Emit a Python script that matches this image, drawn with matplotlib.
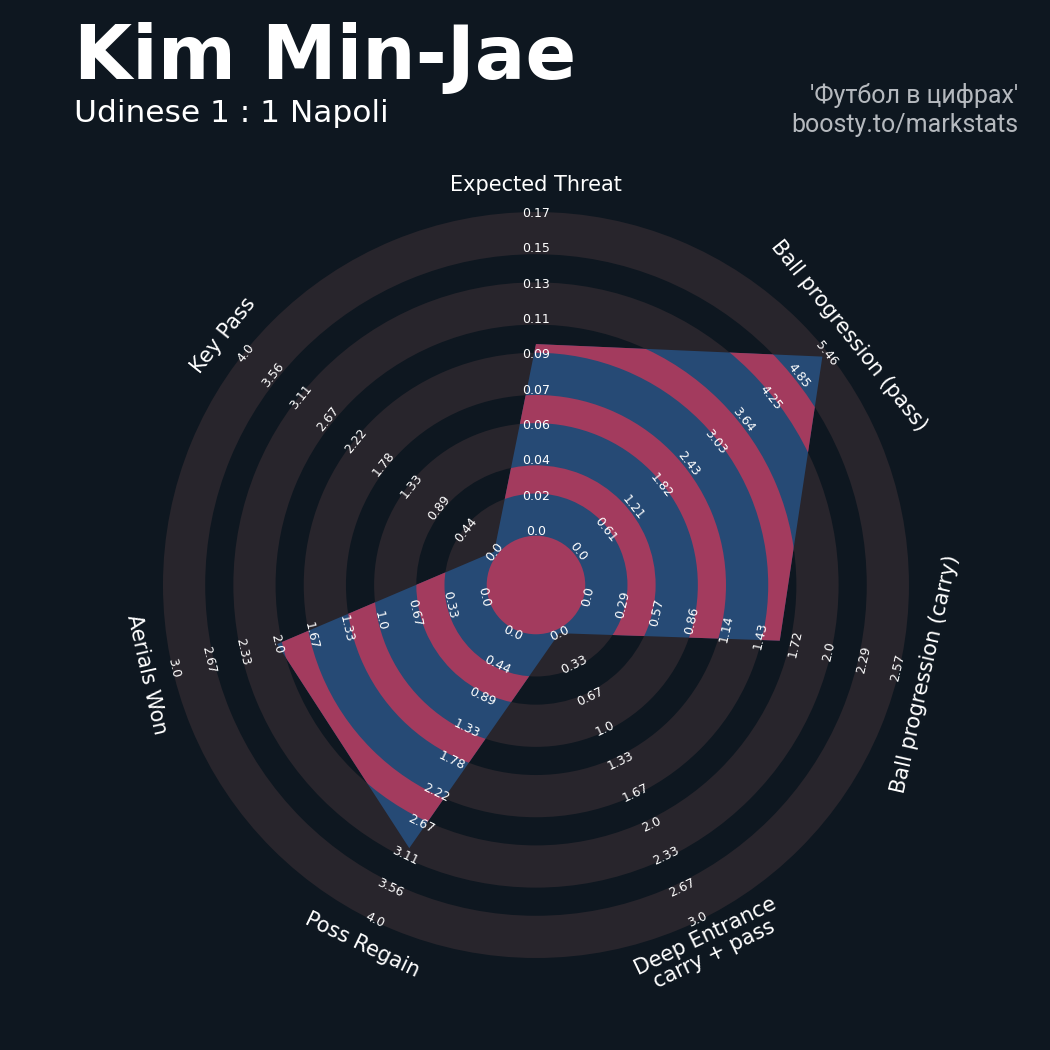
import numpy as np
import matplotlib.pyplot as plt
from matplotlib.patches import Wedge, Polygon, Circle

# данные радара
player = "Kim Min-Jae"
match = "Udinese 1 : 1 Napoli"
credit = "'Футбол в цифрах'\nboosty.to/markstats"
params = ["Expected Threat", "Ball progression (pass)", "Ball progression (carry)",
          "Deep Entrance\ncarry + pass", "Poss Regain", "Aerials Won", "Key Pass"]
values = [0.099, 5.37, 1.59, 0, 3, 2, 0]
min_range = [0, 0, 0, 0, 0, 0, 0]
max_range = [0.168, 5.46, 2.573, 3, 4, 3, 4]

BG = "#0e1720"
RING = "#28252c"
BLUE = "#264a75"
PINK = "#a33b5e"

# геометрия колец (в единицах радара)
center_r = 1.75
ring_w = 1.5
gap_w = 1.0
n_rings = 5
r_lo, r_hi = 1.9, 13.2
label_r = 14.2
n_labels = 10

n = len(params)
theta = np.pi / 2 - np.arange(n) * 2 * np.pi / n


def upright(deg):
    rot = (deg - 90 + 180) % 360 - 180
    if rot < -90:
        rot += 180
    elif rot > 90:
        rot -= 180
    return rot


fig = plt.figure(figsize=(10.5, 10.5), dpi=100, facecolor=BG)
ax = fig.add_axes([0.1083, 0.0407, 0.8043, 0.8043])
ax.set_xlim(-15, 15)
ax.set_ylim(-15, 15)
ax.set_aspect('equal')
ax.axis('off')

# фоновые кольца
edges = []
r = center_r
for i in range(n_rings):
    edges.append((r, r + ring_w))
    r += ring_w + gap_w
for a, b in edges:
    ax.add_patch(Wedge((0, 0), b, 0, 360, width=b - a, color=RING, lw=0, zorder=1))

# полигон игрока
lo = np.array(min_range, float)
hi = np.array(max_range, float)
frac = (np.array(values, float) - lo) / (hi - lo)
rad = r_lo + frac * (r_hi - r_lo)
xy = np.column_stack([rad * np.cos(theta), rad * np.sin(theta)])
poly = Polygon(xy, closed=True, fc=BLUE, ec='none', zorder=2)
ax.add_patch(poly)

for (a1, b1), (a2, b2) in zip(edges[:-1], edges[1:]):
    w = Wedge((0, 0), a2, 0, 360, width=a2 - b1, color=PINK, lw=0, zorder=3)
    ax.add_patch(w)
    w.set_clip_path(poly)
ax.add_patch(Circle((0, 0), center_r, color=PINK, lw=0, zorder=3))

# подписи шкал
for j in range(n):
    rot = upright(np.degrees(theta[j]))
    ticks = np.linspace(min_range[j], max_range[j], n_labels)
    radii = np.linspace(r_lo, r_hi, n_labels)
    for v, rr in zip(ticks, radii):
        ax.text(rr * np.cos(theta[j]), rr * np.sin(theta[j]), str(round(v, 2)),
                ha='center', va='center', rotation=rot, rotation_mode='anchor',
                color='white', fontsize=9, zorder=5)
    ax.text(label_r * np.cos(theta[j]), label_r * np.sin(theta[j]), params[j],
            ha='center', va='center', rotation=rot, rotation_mode='anchor',
            color='white', fontsize=15, zorder=5, linespacing=1.0)

# заголовки
fig.text(0.070, 0.925, player, color='white', fontsize=54, fontweight='bold', va='baseline')
fig.text(0.070, 0.884, match, color='white', fontsize=22.5, va='baseline')
fig.text(0.9695, 0.874, credit, color='#b5b9be', fontsize=18, family='Roboto',
         ha='right', va='baseline', linespacing=1.3)

fig.savefig("out.png", facecolor=BG)
